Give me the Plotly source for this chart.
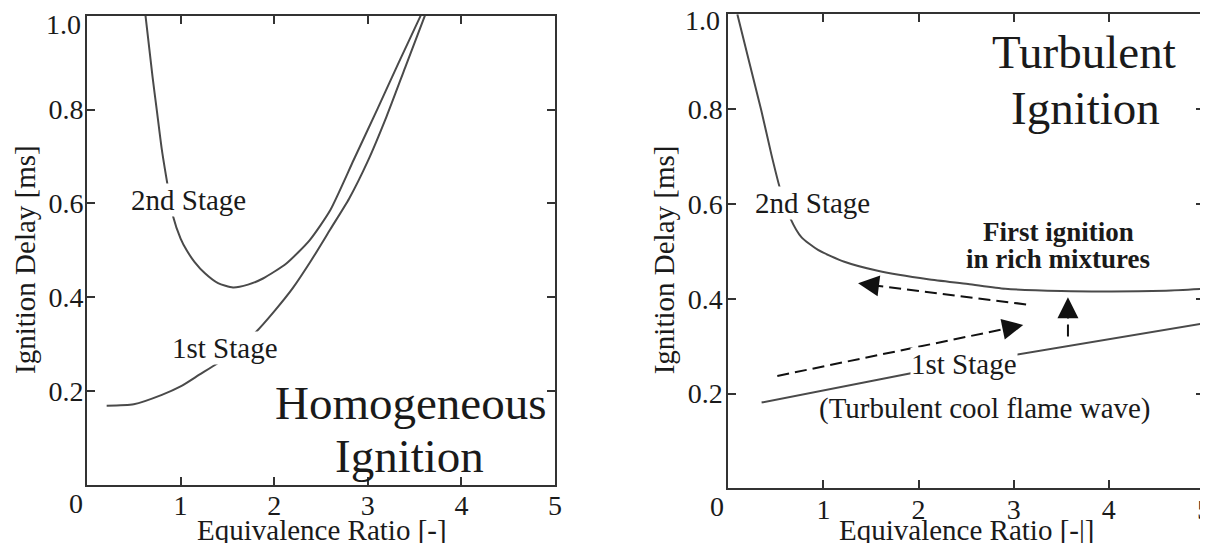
import plotly.graph_objects as go

# ---------------- data ----------------
# Homogeneous ignition (left panel)
hom_1st_x = [0.21, 0.5, 0.8, 1.0, 1.2, 1.4, 1.6, 1.8, 2.0, 2.2, 2.4, 2.6, 2.8, 3.0, 3.2, 3.4, 3.61]
hom_1st_y = [0.169, 0.172, 0.192, 0.21, 0.235, 0.26, 0.29, 0.325, 0.37, 0.42, 0.48, 0.545, 0.61, 0.69, 0.785, 0.89, 1.0]
hom_2nd_x = [0.625, 0.70, 0.745, 0.80, 0.86, 0.92, 1.0, 1.065, 1.15, 1.26, 1.4, 1.56, 1.72, 1.88, 2.13, 2.38, 2.6, 2.85, 3.1, 3.33, 3.565]
hom_2nd_y = [1.0, 0.87, 0.8, 0.714, 0.64, 0.572, 0.525, 0.50, 0.475, 0.451, 0.43, 0.421, 0.427, 0.44, 0.472, 0.522, 0.586, 0.693, 0.80, 0.90, 1.0]

# Turbulent ignition (right panel)
tur_1st_x = [0.35, 1.0, 2.0, 3.0, 4.0, 5.0]
tur_1st_y = [0.181, 0.207, 0.246, 0.281, 0.315, 0.348]
tur_2nd_x = [0.095, 0.225, 0.347, 0.452, 0.54, 0.656, 0.768, 0.943, 1.22, 1.57, 2.10, 2.52, 2.91, 3.50, 4.03, 4.6, 5.0]
tur_2nd_y = [1.0, 0.895, 0.797, 0.705, 0.635, 0.568, 0.530, 0.503, 0.478, 0.459, 0.441, 0.431, 0.421, 0.416, 0.415, 0.417, 0.421]

# dashed arrows (right panel): tail -> base of head, head tip
arrow_tail_x = [3.13, 0.515, 3.57]
arrow_tail_y = [0.388, 0.237, 0.320]
arrow_base_x = [1.541, 2.924, 3.57]
arrow_base_y = [0.428, 0.337, 0.367]
arrow_tip_x = [1.364, 3.10, 3.57]
arrow_tip_y = [0.4325, 0.3445, 0.403]
arrow_stub_x = [1.489, 2.976, 3.57]
arrow_stub_y = [0.4293, 0.3394, 0.3776]

x_ticks = [0, 1, 2, 3, 4, 5]
x_ticktext = ["0", "1", "2", "3", "4", "5"]
y_ticks = [0.2, 0.4, 0.6, 0.8, 1.0]
y_ticktext = ["0.2", "0.4", "0.6", "0.8", "1.0"]

# ---------------- styling ----------------
SERIF = "Liberation Serif"
TXT = "#1a1a1a"
CURVE = "#4a4a4a"
FRAME = "#333333"

# page body has an 8 px margin: figure is 1200x535 so it fills the 1208x543 window
W, H, OFF = 1200, 535, 8


def px_x(px):
    return (px - OFF) / W


def px_y(py):
    return 1 - (py - OFF) / H


fig = go.Figure()

fig.add_trace(go.Scatter(x=hom_2nd_x, y=hom_2nd_y, mode="lines", line=dict(color=CURVE, width=2, shape="spline", smoothing=0.6),
                         xaxis="x", yaxis="y", showlegend=False, hoverinfo="skip"))
fig.add_trace(go.Scatter(x=hom_1st_x, y=hom_1st_y, mode="lines", line=dict(color=CURVE, width=2, shape="spline", smoothing=0.6),
                         xaxis="x", yaxis="y", showlegend=False, hoverinfo="skip"))
fig.add_trace(go.Scatter(x=tur_2nd_x, y=tur_2nd_y, mode="lines", line=dict(color=CURVE, width=2, shape="spline", smoothing=0.6),
                         xaxis="x2", yaxis="y2", showlegend=False, hoverinfo="skip"))
fig.add_trace(go.Scatter(x=tur_1st_x, y=tur_1st_y, mode="lines", line=dict(color=CURVE, width=2),
                         xaxis="x2", yaxis="y2", showlegend=False, hoverinfo="skip"))

for i in range(len(arrow_tail_x)):
    fig.add_trace(go.Scatter(x=[arrow_tail_x[i], arrow_base_x[i]], y=[arrow_tail_y[i], arrow_base_y[i]],
                             mode="lines", line=dict(color="#111111", width=2, dash="12px,6px"),
                             xaxis="x2", yaxis="y2", showlegend=False, hoverinfo="skip"))

annotations = []
for i in range(len(arrow_tip_x)):
    annotations.append(dict(x=arrow_tip_x[i], y=arrow_tip_y[i], ax=arrow_stub_x[i], ay=arrow_stub_y[i],
                            xref="x2", yref="y2", axref="x2", ayref="y2", text="", showarrow=True,
                            arrowhead=2, arrowsize=2.8, arrowwidth=1.5, arrowcolor="#111111"))


def label(text, x, y, xref, yref, size, bg=None, bold=False):
    d = dict(text=f"<b>{text}</b>" if bold else text, x=x, y=y, xref=xref, yref=yref,
             showarrow=False, xanchor="center", yanchor="middle",
             font=dict(family=SERIF, size=size, color=TXT), borderpad=0)
    if bg:
        d["bgcolor"] = bg
    annotations.append(d)


# left panel labels
label("2nd Stage", 1.085, 0.607, "x", "y", 29, bg="white")
label("1st Stage", 1.47, 0.291, "x", "y", 29, bg="white")
label("Homogeneous", 3.46, 0.174, "x", "y", 47)
label("Ignition", 3.45, 0.061, "x", "y", 47)
# right panel labels
label("Turbulent", 3.74, 0.920, "x2", "y2", 47)
label("Ignition", 3.75, 0.803, "x2", "y2", 47)
label("2nd Stage", 0.89, 0.602, "x2", "y2", 29, bg="white")
label("1st Stage", 2.476, 0.262, "x2", "y2", 29, bg="white")
label("(Turbulent cool flame wave)", 2.70, 0.1686, "x2", "y2", 29)
label("First ignition", 3.467, 0.540, "x2", "y2", 27, bold=True)
label("in rich mixtures", 3.466, 0.484, "x2", "y2", 27, bold=True)

# axis titles
title_font = dict(family=SERIF, size=29, color=TXT)
tick_font = dict(family=SERIF, size=28, color=TXT)
annotations.append(dict(text="Ignition Delay [ms]", x=px_x(25), y=px_y(260), xref="paper", yref="paper", textangle=-90,
                        showarrow=False, xanchor="center", yanchor="middle", font=title_font))
annotations.append(dict(text="Ignition Delay [ms]", x=px_x(664.3), y=px_y(260), xref="paper", yref="paper", textangle=-90,
                        showarrow=False, xanchor="center", yanchor="middle", font=title_font))
annotations.append(dict(text="Equivalence Ratio [-]", x=px_x(322), y=px_y(530), xref="paper", yref="paper",
                        showarrow=False, xanchor="center", yanchor="middle", font=title_font))
annotations.append(dict(text="Equivalence Ratio [-|]", x=px_x(966), y=px_y(530), xref="paper", yref="paper",
                        showarrow=False, xanchor="center", yanchor="middle", font=title_font))

# corner tick labels sit slightly off their ticks in the original (first x label, last y label)
annotations.append(dict(text=x_ticktext[0], x=px_x(75.5), y=px_y(503.5), xref="paper", yref="paper",
                        showarrow=False, xanchor="center", yanchor="middle", font=tick_font))
annotations.append(dict(text=x_ticktext[0], x=px_x(717), y=px_y(506), xref="paper", yref="paper",
                        showarrow=False, xanchor="center", yanchor="middle", font=tick_font))
annotations.append(dict(text=y_ticktext[-1], x=px_x(83), y=px_y(24), xref="paper", yref="paper",
                        showarrow=False, xanchor="right", yanchor="middle", font=tick_font))
annotations.append(dict(text=y_ticktext[-1], x=px_x(722), y=px_y(21), xref="paper", yref="paper",
                        showarrow=False, xanchor="right", yanchor="middle", font=tick_font))

x_axis_text = [""] + x_ticktext[1:]
y_axis_text = y_ticktext[:-1] + [""]

axis_common = dict(showline=True, linecolor=FRAME, linewidth=2, mirror="allticks", ticks="inside",
                   ticklen=8, tickwidth=1.5, tickcolor=FRAME, showgrid=False, zeroline=False,
                   tickfont=tick_font, automargin=False, fixedrange=True,
                   ticklabeloverflow="allow")

fig.update_layout(
    width=W, height=H,
    margin=dict(l=0, r=0, t=0, b=0),
    paper_bgcolor="white", plot_bgcolor="white",
    showlegend=False,
    xaxis=dict(domain=[px_x(87), px_x(555)], range=[0, 5], anchor="y", tickvals=x_ticks, ticktext=x_axis_text,
               ticklabelstandoff=-6, **axis_common),
    yaxis=dict(domain=[px_y(485), px_y(15.7)], range=[0, 1.0], anchor="x", tickvals=y_ticks, ticktext=y_axis_text,
               ticklabelstandoff=-4, **axis_common),
    xaxis2=dict(domain=[px_x(728.3), px_x(1204)], range=[0, 5], anchor="y2", tickvals=x_ticks, ticktext=x_axis_text,
                ticklabelstandoff=-5, **axis_common),
    yaxis2=dict(domain=[px_y(488.3), px_y(14.3)], range=[0, 1.0], anchor="x2", tickvals=y_ticks, ticktext=y_axis_text,
                ticklabelstandoff=-2, **axis_common),
    annotations=annotations,
)

fig.write_html("out.html", config={"displayModeBar": False})
